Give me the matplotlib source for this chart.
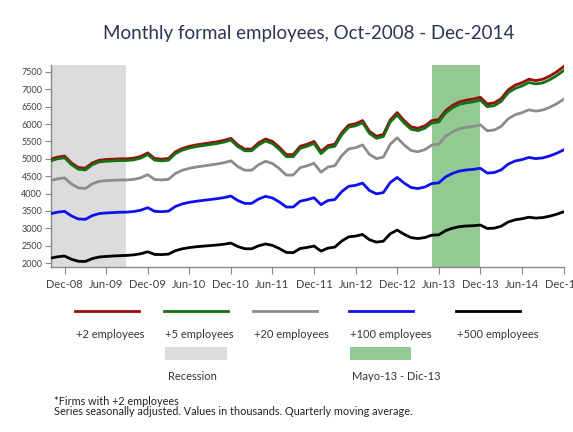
import matplotlib
matplotlib.use("Agg")
import matplotlib.pyplot as plt
from matplotlib.lines import Line2D
from matplotlib.patches import Rectangle

plt.rcParams['font.family'] = ['Lato', 'DejaVu Sans']

# Month index 0 = Oct-2008 ... 74 = Dec-2014
months = list(range(75))

emp_2 = [4990, 5050, 5080, 4880, 4750, 4730, 4880, 4960, 4980, 4990,
         5000, 5000, 5020, 5070, 5170, 5010, 4990, 5010, 5200, 5300,
         5360, 5400, 5430, 5460, 5490, 5530, 5590, 5400, 5280, 5280,
         5460, 5570, 5500, 5330, 5120, 5120, 5360, 5420, 5500, 5210,
         5380, 5420, 5750, 5970, 6010, 6100, 5790, 5650, 5700, 6120,
         6330, 6100, 5920, 5880, 5950, 6100, 6130, 6390, 6540, 6640,
         6690, 6720, 6770, 6580, 6610, 6730, 6980, 7120, 7190, 7290,
         7250, 7290, 7380, 7500, 7650]

emp_5 = [4940, 5000, 5030, 4830, 4700, 4680, 4830, 4910, 4930, 4940,
         4950, 4950, 4970, 5020, 5120, 4960, 4940, 4960, 5150, 5250,
         5310, 5350, 5380, 5410, 5440, 5480, 5540, 5350, 5230, 5230,
         5400, 5510, 5440, 5270, 5060, 5060, 5300, 5360, 5440, 5150,
         5320, 5360, 5690, 5910, 5950, 6040, 5730, 5590, 5640, 6060,
         6260, 6030, 5850, 5810, 5880, 6030, 6060, 6320, 6470, 6570,
         6610, 6640, 6690, 6500, 6530, 6650, 6900, 7025, 7095, 7195,
         7155, 7185, 7275, 7390, 7535]

emp_20 = [4370, 4424, 4451, 4276, 4163, 4146, 4279, 4351, 4370, 4380,
          4390, 4391, 4409, 4454, 4543, 4405, 4390, 4410, 4580, 4670,
          4726, 4763, 4792, 4821, 4850, 4887, 4943, 4776, 4671, 4671,
          4830, 4927, 4866, 4717, 4532, 4533, 4745, 4798, 4869, 4614,
          4764, 4799, 5091, 5284, 5320, 5400, 5127, 5005, 5049, 5419,
          5604, 5401, 5240, 5204, 5265, 5396, 5420, 5648, 5779, 5866,
          5908, 5933, 5976, 5806, 5829, 5931, 6148, 6267, 6326, 6411,
          6372, 6404, 6480, 6582, 6711]

emp_100 = [3419, 3464, 3488, 3354, 3267, 3258, 3364, 3423, 3441, 3451,
           3462, 3465, 3483, 3520, 3593, 3487, 3477, 3494, 3629, 3702,
           3747, 3778, 3803, 3827, 3852, 3883, 3928, 3798, 3716, 3717,
           3842, 3919, 3872, 3756, 3612, 3613, 3779, 3822, 3879, 3680,
           3798, 3827, 4055, 4208, 4237, 4300, 4087, 3991, 4027, 4318,
           4464, 4302, 4174, 4143, 4188, 4288, 4306, 4482, 4582, 4648,
           4679, 4696, 4727, 4589, 4604, 4680, 4845, 4936, 4977, 5039,
           5005, 5026, 5081, 5158, 5254]

emp_500 = [2143, 2179, 2201, 2107, 2049, 2045, 2127, 2173, 2189, 2201,
           2212, 2219, 2235, 2267, 2323, 2247, 2242, 2256, 2355, 2409,
           2444, 2468, 2485, 2502, 2519, 2541, 2573, 2475, 2412, 2409,
           2496, 2548, 2507, 2416, 2304, 2298, 2418, 2448, 2488, 2343,
           2428, 2458, 2633, 2753, 2775, 2822, 2669, 2601, 2628, 2841,
           2948, 2827, 2731, 2704, 2733, 2802, 2811, 2934, 3003, 3047,
           3066, 3074, 3093, 2993, 3003, 3058, 3178, 3243, 3273, 3318,
           3293, 3308, 3348, 3403, 3473]

series_labels = ['+2 employees', '+5 employees', '+20 employees',
                 '+100 employees', '+500 employees']
series_colors = ['#9a0d0d', '#167016', '#8c8c8c', '#1010ee', '#000000']

tick_pos = [2, 8, 14, 20, 26, 32, 38, 44, 50, 56, 62, 68, 74]
tick_labels = ['Dec-08', 'Jun-09', 'Dec-09', 'Jun-10', 'Dec-10', 'Jun-11',
               'Dec-11', 'Jun-12', 'Dec-12', 'Jun-13', 'Dec-13', 'Jun-14',
               'Dec-14']
y_ticks = [2000, 2500, 3000, 3500, 4000, 4500, 5000, 5500, 6000, 6500,
           7000, 7500]

recession_span = (0, 10.9)
recession_label = 'Recession'
period_span = (55, 62)
period_label = 'Mayo-13 - Dic-13'

W, H = 573, 432
fig = plt.figure(figsize=(W / 100, H / 100), dpi=100)
fig.patch.set_facecolor('white')

def fx(x):
    return x / W

def fy(y):
    return 1 - y / H

ax = fig.add_axes([fx(50.7), fy(267), fx(563.5) - fx(50.7), fy(65) - fy(267)])
ax.set_xlim(0, 74)
ax.set_ylim(1885, 7700)

rec_color = '#dcdcdc'
per_color = '#93c993'
ax.axvspan(*recession_span, color=rec_color, lw=0, zorder=0)
ax.axvspan(*period_span, color=per_color, lw=0, zorder=0)

all_series = [emp_2, emp_5, emp_20, emp_100, emp_500]
for vals, col in zip(all_series, series_colors):
    ax.plot(months, vals, color=col, lw=2.0, solid_joinstyle='round', zorder=3)

for s in ['top', 'right']:
    ax.spines[s].set_visible(False)
for s in ['left', 'bottom']:
    ax.spines[s].set_color('#888888')
    ax.spines[s].set_linewidth(1.0)

ax.set_xticks(tick_pos)
ax.set_xticklabels(tick_labels, fontsize=8, color='#404040')
ax.set_yticks(y_ticks)
ax.set_yticklabels([str(v) for v in y_ticks], fontsize=6.5, color='#404040')
ax.tick_params(axis='x', direction='out', length=5, color='#888888', pad=3.5)
ax.tick_params(axis='y', direction='out', length=4, color='#888888', pad=2)
for lbl in ax.get_xticklabels():
    lbl.set_clip_on(False)

fig.text(fx(309), fy(33), 'Monthly formal employees, Oct-2008 - Dec-2014',
         ha='center', va='center', fontsize=13.5, color='#2b3556')

# custom legend
leg_x = [75, 164, 253, 349, 456]
for lx, col, lab in zip(leg_x, series_colors, series_labels):
    fig.add_artist(Line2D([fx(lx), fx(lx + 64)], [fy(311), fy(311)],
                          color=col, lw=2.0, transform=fig.transFigure))
    fig.text(fx(lx + 1), fy(335), lab, ha='left', va='center', fontsize=8,
             color='#333333')

fig.add_artist(Rectangle((fx(165), fy(360)), fx(62), 13 / H, color=rec_color,
                         lw=0, transform=fig.transFigure))
fig.text(fx(168), fy(377), recession_label, ha='left', va='center',
         fontsize=8, color='#333333')
fig.add_artist(Rectangle((fx(350), fy(360)), fx(61), 13 / H, color=per_color,
                         lw=0, transform=fig.transFigure))
fig.text(fx(352), fy(377), period_label, ha='left', va='center',
         fontsize=8, color='#333333')

fig.text(fx(54), fy(401.5), '*Firms with +2 employees', ha='left',
         va='center', fontsize=7.8, color='#222222')
fig.text(fx(54), fy(411.5),
         'Series seasonally adjusted. Values in thousands. Quarterly moving average.',
         ha='left', va='center', fontsize=7.8, color='#222222')

fig.savefig('out.png', dpi=100)
